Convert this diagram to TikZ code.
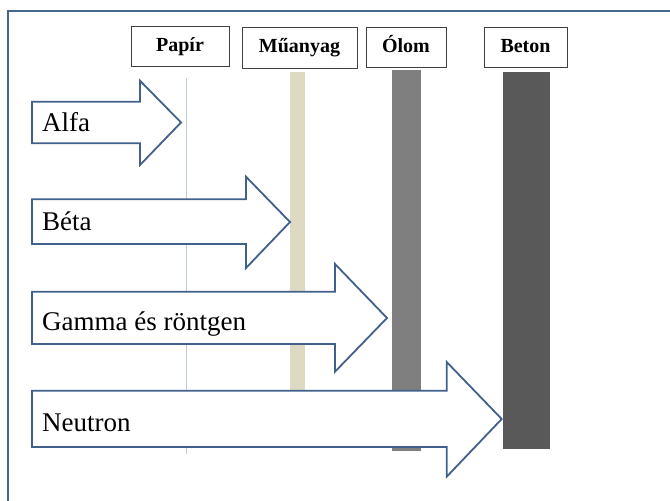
\documentclass[tikz,border=0pt]{standalone}
\usepackage{fontspec}
\setmainfont{Liberation Serif}
\definecolor{framecol}{HTML}{46658F}
\definecolor{arrowcol}{HTML}{41618C}
\definecolor{papercol}{HTML}{BACDE3}
\definecolor{plasticcol}{HTML}{DDD9C3}
\definecolor{leadcol}{HTML}{7F7F7F}
\definecolor{concretecol}{HTML}{595959}
\definecolor{boxcol}{HTML}{404040}
\begin{document}
\begin{tikzpicture}[x=1pt, y=-1pt,
  material/.style={draw=boxcol, line width=0.9pt, fill=white, inner sep=0pt,
    font=\fontsize{20}{24}\selectfont\bfseries, text height=13.5pt, text depth=3pt},
  barrier/.style={draw=none},
  ray/.style={draw=arrowcol, line width=1.8pt, fill=white, line join=miter},
  raylabel/.style={anchor=base west, inner sep=0pt, font=\fontsize{27}{32}\selectfont}
]
\useasboundingbox (0,0) rectangle (670,501);
\fill[white] (0,0) rectangle (670,501);

% outer frame (top and left edges)
\draw[framecol, line width=2.6pt] (8,505) -- (8,11) -- (675,11);

% material headers
\node[material, minimum width=98pt, minimum height=40pt] (paper)    at (180,46)   {Papír};
\node[material, minimum width=115pt, minimum height=41pt] (plastic) at (299.5,47.5) {Műanyag};
\node[material, minimum width=80pt, minimum height=40pt] (lead)     at (406,47)   {Ólom};
\node[material, minimum width=83pt, minimum height=40pt] (concrete) at (525.5,47) {Beton};

% barriers
\draw[papercol, line width=1.5pt] (186.7,78) -- (186.7,454);
\fill[plasticcol] (290,72) rectangle (305,420);
\fill[leadcol] (392,70) rectangle (421,451);
\fill[concretecol] (503,72) rectangle (550,449);

% radiation arrows
\draw[ray] (32,101.7) -- (140,101.7) -- (140,80.7) -- (181,122.5) -- (140,165) -- (140,143.3) -- (32,143.3) -- cycle;
\node[raylabel] (alpha) at (42,131.7) {Alfa};

\draw[ray] (32,199.3) -- (246,199.3) -- (246,176.7) -- (290,222) -- (246,268) -- (246,244) -- (32,244) -- cycle;
\node[raylabel] (beta) at (42,230.7) {Béta};

\draw[ray] (32,291.7) -- (335,291.7) -- (335,264) -- (387,318) -- (335,371.7) -- (335,344) -- (32,344) -- cycle;
\node[raylabel] (gamma) at (42,330) {Gamma és röntgen};

\draw[ray] (32,390.7) -- (446.7,390.7) -- (446.7,362) -- (501.7,419) -- (446.7,476.7) -- (446.7,447) -- (32,447) -- cycle;
\node[raylabel] (neutron) at (42,431.7) {Neutron};
\end{tikzpicture}
\end{document}
